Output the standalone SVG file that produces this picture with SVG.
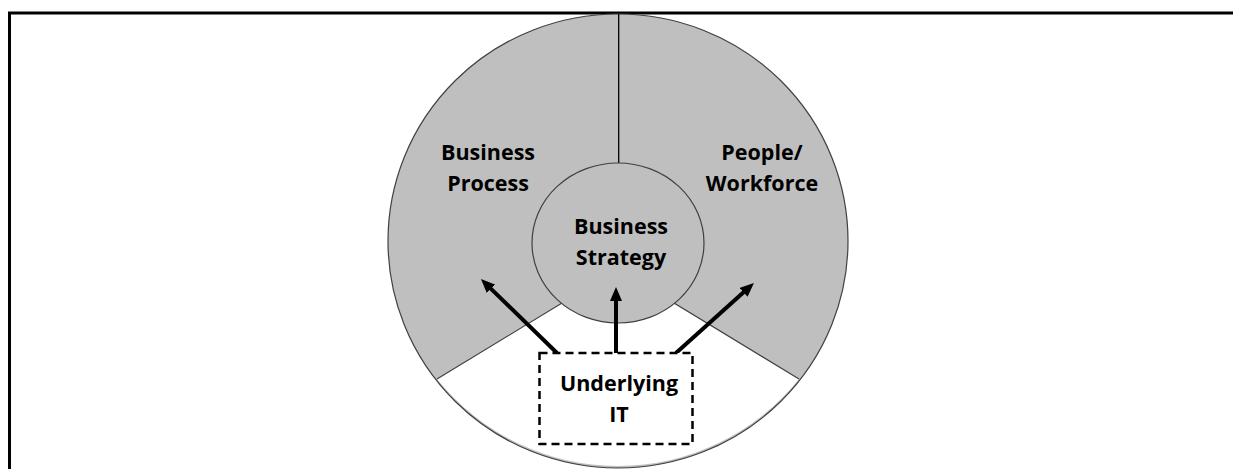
<svg xmlns="http://www.w3.org/2000/svg" width="1233" height="469" viewBox="0 0 1233 469">
  <style>
    .lbl { font-family: "Open Sans", "Liberation Sans", sans-serif; font-weight: bold; font-size: 21.5px; fill: #000; text-anchor: middle; }
    .edge { stroke: #404040; stroke-width: 1.2; }
    .arrow { stroke: #000; stroke-width: 4; fill: none; marker-end: url(#head); }
  </style>
  <defs>
    <marker id="head" markerUnits="userSpaceOnUse" markerWidth="14" markerHeight="12" refX="6" refY="6" orient="auto">
      <path d="M0,0 L14,6 L0,12 z" fill="#000"/>
    </marker>
  </defs>
  <rect width="1233" height="469" fill="#fff"/>
  <!-- frame -->
  <path d="M9.5 469 V13 H1233" fill="none" stroke="#000" stroke-width="3"/>

  <g id="outer-ring">
    <ellipse cx="618" cy="241" rx="230" ry="227" fill="#bfbfbf"/>
    <path id="bottom-sector" d="M618 269 L437 379 A230 227 0 0 0 799 379 Z" fill="#fff"/>
    <path d="M437 379 L618 269 L799 379" fill="none" class="edge"/>
    <ellipse cx="618" cy="241" rx="230" ry="227" fill="none" class="edge"/>
    <line x1="618.7" y1="14" x2="618.7" y2="164" stroke="#000" stroke-width="1.3"/>
  </g>

  <g id="business-process">
    <text class="lbl" x="488" y="160">Business</text>
    <text class="lbl" x="488" y="191">Process</text>
  </g>

  <g id="people-workforce">
    <text class="lbl" x="762" y="160">People/</text>
    <text class="lbl" x="762" y="191">Workforce</text>
  </g>

  <g id="business-strategy">
    <ellipse cx="618" cy="243" rx="86" ry="80" fill="#bfbfbf" class="edge"/>
    <text class="lbl" x="621" y="234">Business</text>
    <text class="lbl" x="621" y="265">Strategy</text>
  </g>

  <g id="connectors">
    <line class="arrow" x1="557" y1="353" x2="486.7" y2="284.6"/>
    <line class="arrow" x1="616" y1="353" x2="616" y2="295"/>
    <line class="arrow" x1="676" y1="353" x2="748" y2="288.3"/>
  </g>

  <g id="underlying-it">
    <rect x="539.5" y="353" width="153" height="91" fill="#fff" stroke="#000" stroke-width="2.5" stroke-dasharray="8 5"/>
    <text class="lbl" x="619" y="391">Underlying</text>
    <text class="lbl" x="619" y="422">IT</text>
  </g>
</svg>
